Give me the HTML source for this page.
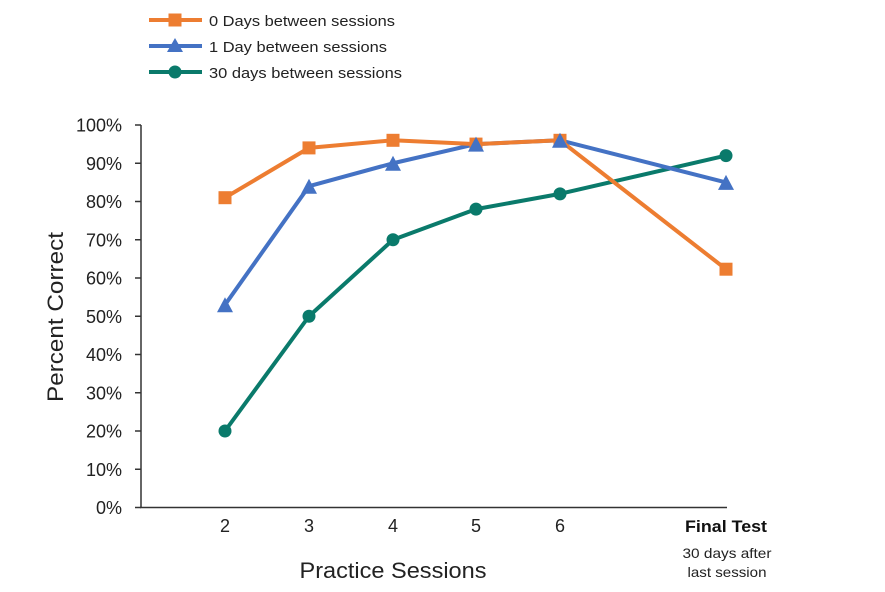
<!DOCTYPE html>
<html><head><meta charset="utf-8"><style>
html,body{margin:0;padding:0;background:#fff;}
svg{display:block;font-family:"Liberation Sans",sans-serif;}
</style></head><body>
<svg width="885" height="592" viewBox="0 0 885 592" xmlns="http://www.w3.org/2000/svg">
<rect width="885" height="592" fill="#fff"/>
<!-- legend -->
<g>
<line x1="149" y1="20" x2="202" y2="20" stroke="#ED7D31" stroke-width="4"/>
<rect x="168.5" y="13.5" width="13" height="13" fill="#ED7D31"/>
<text x="209" y="26" font-size="15" fill="#222" textLength="186" lengthAdjust="spacingAndGlyphs">0 Days between sessions</text>
<line x1="149" y1="46" x2="202" y2="46" stroke="#4472C4" stroke-width="4"/>
<polygon points="175,38 183,52 167,52" fill="#4472C4"/>
<text x="209" y="52" font-size="15" fill="#222" textLength="178" lengthAdjust="spacingAndGlyphs">1 Day between sessions</text>
<line x1="149" y1="72" x2="202" y2="72" stroke="#0A7A6B" stroke-width="4"/>
<circle cx="175" cy="72" r="6.5" fill="#0A7A6B"/>
<text x="209" y="78" font-size="15" fill="#222" textLength="193" lengthAdjust="spacingAndGlyphs">30 days between sessions</text>
</g>
<!-- axes -->
<line x1="141" y1="125" x2="141" y2="507.5" stroke="#333" stroke-width="1.5"/>
<line x1="140" y1="507.5" x2="727" y2="507.5" stroke="#333" stroke-width="1.5"/>
<g stroke="#333" stroke-width="1.5">
<line x1="135" y1="125" x2="141" y2="125"/>
<line x1="135" y1="163.25" x2="141" y2="163.25"/>
<line x1="135" y1="201.5" x2="141" y2="201.5"/>
<line x1="135" y1="239.75" x2="141" y2="239.75"/>
<line x1="135" y1="278" x2="141" y2="278"/>
<line x1="135" y1="316.25" x2="141" y2="316.25"/>
<line x1="135" y1="354.5" x2="141" y2="354.5"/>
<line x1="135" y1="392.75" x2="141" y2="392.75"/>
<line x1="135" y1="431" x2="141" y2="431"/>
<line x1="135" y1="469.25" x2="141" y2="469.25"/>
<line x1="135" y1="507.5" x2="141" y2="507.5"/>
</g>
<g font-size="18" fill="#222" text-anchor="end">
<text x="122" y="131.5">100%</text>
<text x="122" y="169.75">90%</text>
<text x="122" y="208">80%</text>
<text x="122" y="246.25">70%</text>
<text x="122" y="284.5">60%</text>
<text x="122" y="322.75">50%</text>
<text x="122" y="361">40%</text>
<text x="122" y="399.25">30%</text>
<text x="122" y="437.5">20%</text>
<text x="122" y="475.75">10%</text>
<text x="122" y="514">0%</text>
</g>
<text transform="translate(63,317) rotate(-90)" text-anchor="middle" font-size="22" fill="#222" textLength="170" lengthAdjust="spacingAndGlyphs">Percent Correct</text>
<!-- x labels -->
<g font-size="18" fill="#222" text-anchor="middle">
<text x="225" y="532">2</text>
<text x="309" y="532">3</text>
<text x="393" y="532">4</text>
<text x="476" y="532">5</text>
<text x="560" y="532">6</text>
</g>
<text x="726" y="532" font-size="17" font-weight="bold" fill="#111" text-anchor="middle" textLength="82" lengthAdjust="spacingAndGlyphs">Final Test</text>
<text x="727" y="558" font-size="14" fill="#222" text-anchor="middle" textLength="89" lengthAdjust="spacingAndGlyphs">30 days after</text>
<text x="727" y="577" font-size="14" fill="#222" text-anchor="middle" textLength="79" lengthAdjust="spacingAndGlyphs">last session</text>
<text x="393" y="578" font-size="22" fill="#222" text-anchor="middle" textLength="187" lengthAdjust="spacingAndGlyphs">Practice Sessions</text>
<!-- series -->
<!-- y = 507.5 - 3.825*v -->
<polyline fill="none" stroke="#0A7A6B" stroke-width="4" stroke-linejoin="round" points="225,431 309,316.25 393,239.75 476,209.15 560,193.85 726,155.6"/>
<polyline fill="none" stroke="#4472C4" stroke-width="4" stroke-linejoin="round" points="225,304.8 309,186.2 393,163.25 476,144.1 560,140.3 726,182.4"/>
<polyline fill="none" stroke="#ED7D31" stroke-width="4" stroke-linejoin="round" points="225,197.7 309,147.9 393,140.3 476,144.1 560,140.3 726,269.2"/>
<g fill="#ED7D31">
<rect x="218.5" y="191.2" width="13" height="13"/>
<rect x="302.5" y="141.4" width="13" height="13"/>
<rect x="386.5" y="133.8" width="13" height="13"/>
<rect x="469.5" y="137.6" width="13" height="13"/>
<rect x="553.5" y="133.8" width="13" height="13"/>
<rect x="719.5" y="262.7" width="13" height="13"/>
</g>
<g fill="#4472C4">
<polygon points="225,297.3 233,312.3 217,312.3"/>
<polygon points="309,178.7 317,193.7 301,193.7"/>
<polygon points="393,155.75 401,170.75 385,170.75"/>
<polygon points="476,136.6 484,151.6 468,151.6"/>
<polygon points="560,132.8 568,147.8 552,147.8"/>
<polygon points="726,174.9 734,189.9 718,189.9"/>
</g>
<g fill="#0A7A6B">
<circle cx="225" cy="431" r="6.5"/>
<circle cx="309" cy="316.25" r="6.5"/>
<circle cx="393" cy="239.75" r="6.5"/>
<circle cx="476" cy="209.15" r="6.5"/>
<circle cx="560" cy="193.85" r="6.5"/>
<circle cx="726" cy="155.6" r="6.5"/>
</g>
</svg>
</body></html>
